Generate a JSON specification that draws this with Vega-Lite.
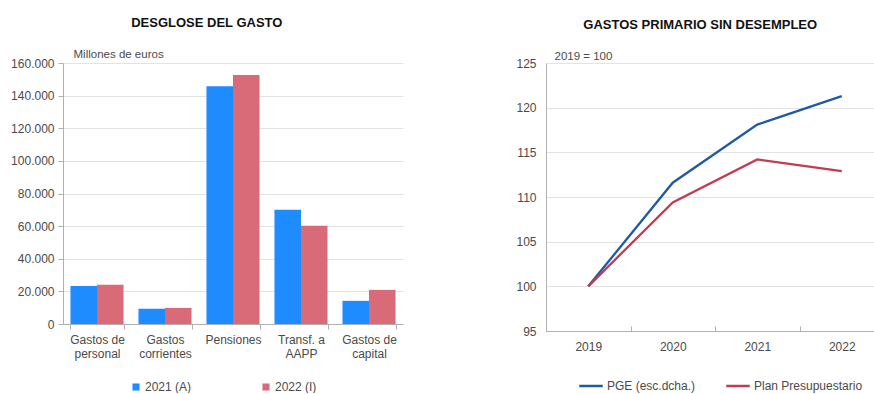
{
  "$schema": "https://vega.github.io/schema/vega-lite/v6.json",
  "padding": {"left": 10, "top": 17, "right": 0, "bottom": 0},
  "background": "white",
  "spacing": 112,
  "datasets": {
    "bars": [
      {"categoria": "Gastos de personal", "serie": "2021 (A)", "valor": 23300},
      {"categoria": "Gastos de personal", "serie": "2022 (I)", "valor": 24000},
      {"categoria": "Gastos corrientes", "serie": "2021 (A)", "valor": 9300},
      {"categoria": "Gastos corrientes", "serie": "2022 (I)", "valor": 9900},
      {"categoria": "Pensiones", "serie": "2021 (A)", "valor": 145800},
      {"categoria": "Pensiones", "serie": "2022 (I)", "valor": 152600},
      {"categoria": "Transf. a AAPP", "serie": "2021 (A)", "valor": 70000},
      {"categoria": "Transf. a AAPP", "serie": "2022 (I)", "valor": 60300},
      {"categoria": "Gastos de capital", "serie": "2021 (A)", "valor": 14200},
      {"categoria": "Gastos de capital", "serie": "2022 (I)", "valor": 20900}
    ],
    "lines": [
      {"anio": "2019", "serie": "PGE (esc.dcha.)", "valor": 100},
      {"anio": "2020", "serie": "PGE (esc.dcha.)", "valor": 111.6},
      {"anio": "2021", "serie": "PGE (esc.dcha.)", "valor": 118.1},
      {"anio": "2022", "serie": "PGE (esc.dcha.)", "valor": 121.3},
      {"anio": "2019", "serie": "Plan Presupuestario", "valor": 100},
      {"anio": "2020", "serie": "Plan Presupuestario", "valor": 109.4},
      {"anio": "2021", "serie": "Plan Presupuestario", "valor": 114.2},
      {"anio": "2022", "serie": "Plan Presupuestario", "valor": 112.9}
    ]
  },
  "config": {
    "view": {"stroke": null},
    "font": "Liberation Sans",
    "axis": {
      "labelFont": "Liberation Sans",
      "labelFontSize": 12,
      "labelColor": "#4a4a4a",
      "titleFont": "Liberation Sans",
      "titleFontSize": 11.5,
      "titleFontWeight": "normal",
      "titleColor": "#4a4a4a",
      "domainColor": "#b0b0b0",
      "tickColor": "#b0b0b0",
      "gridColor": "#e3e3e3"
    },
    "legend": {
      "labelFont": "Liberation Sans",
      "labelFontSize": 12,
      "labelColor": "#4a4a4a"
    },
    "title": {"font": "Liberation Sans", "fontSize": 13, "fontWeight": "bold", "color": "#111111"}
  },
  "resolve": {"scale": {"color": "independent"}, "legend": {"color": "independent"}},
  "hconcat": [
    {
      "width": 340,
      "height": 261,
      "title": {"text": "DESGLOSE DEL GASTO", "frame": "bounds", "anchor": "middle", "offset": 18},
      "data": {"name": "bars"},
      "mark": {"type": "bar"},
      "encoding": {
        "x": {
          "field": "categoria", "type": "nominal", "sort": null,
          "scale": {"paddingInner": 0.22, "paddingOuter": 0.11},
          "axis": {
            "title": null, "labelAngle": 0, "tickBand": "extent", "ticks": true, "tickSize": 5,
            "labelPadding": 5, "labelLineHeight": 14,
            "labelExpr": "datum.value == 'Gastos de personal' ? ['Gastos de', 'personal'] : datum.value == 'Gastos corrientes' ? ['Gastos', 'corrientes'] : datum.value == 'Transf. a AAPP' ? ['Transf. a', 'AAPP'] : datum.value == 'Gastos de capital' ? ['Gastos de', 'capital'] : datum.value"
          }
        },
        "xOffset": {"field": "serie", "type": "nominal", "scale": {"paddingInner": 0, "paddingOuter": 0}},
        "y": {
          "field": "valor", "type": "quantitative",
          "scale": {"domain": [0, 160000]},
          "axis": {
            "values": [0, 20000, 40000, 60000, 80000, 100000, 120000, 140000, 160000],
            "labelExpr": "replace(format(datum.value, ','), ',', '.')",
            "tickSize": 5, "labelPadding": 4,
            "title": "Millones de euros", "titleAngle": 0, "titleX": 10, "titleY": -4,
            "titleAlign": "left", "titleBaseline": "bottom"
          }
        },
        "color": {
          "field": "serie", "type": "nominal",
          "scale": {"range": ["#1e8cff", "#d96b78"]},
          "legend": {
            "title": null, "orient": "none", "legendX": 67, "legendY": 318,
            "direction": "horizontal", "symbolType": "square", "symbolSize": 50,
            "columnPadding": 68, "labelOffset": 3, "padding": 0
          }
        }
      }
    },
    {
      "width": 338,
      "height": 268,
      "title": {"text": "GASTOS PRIMARIO SIN DESEMPLEO", "frame": "bounds", "anchor": "middle", "offset": 18},
      "data": {"name": "lines"},
      "mark": {"type": "line", "strokeWidth": 2.3},
      "encoding": {
        "x": {
          "field": "anio", "type": "nominal",
          "scale": {"type": "band", "paddingInner": 0, "paddingOuter": 0},
          "axis": {"title": null, "labelAngle": 0, "tickBand": "extent", "ticks": true, "tickSize": -5, "labelPadding": 15}
        },
        "y": {
          "field": "valor", "type": "quantitative",
          "scale": {"domain": [95, 125]},
          "axis": {
            "values": [95, 100, 105, 110, 115, 120, 125],
            "ticks": false, "labelPadding": 10,
            "title": "2019 = 100", "titleAngle": 0, "titleX": 8, "titleY": -2,
            "titleAlign": "left", "titleBaseline": "bottom"
          }
        },
        "color": {
          "field": "serie", "type": "nominal",
          "scale": {"range": ["#1f5aa3", "#c13c50"]},
          "legend": {
            "title": null, "orient": "none", "legendX": 32, "legendY": 310,
            "direction": "horizontal", "symbolType": "stroke", "symbolSize": 550,
            "symbolStrokeWidth": 2.5, "columnPadding": 25, "labelOffset": 3, "padding": 0
          }
        }
      }
    }
  ]
}
